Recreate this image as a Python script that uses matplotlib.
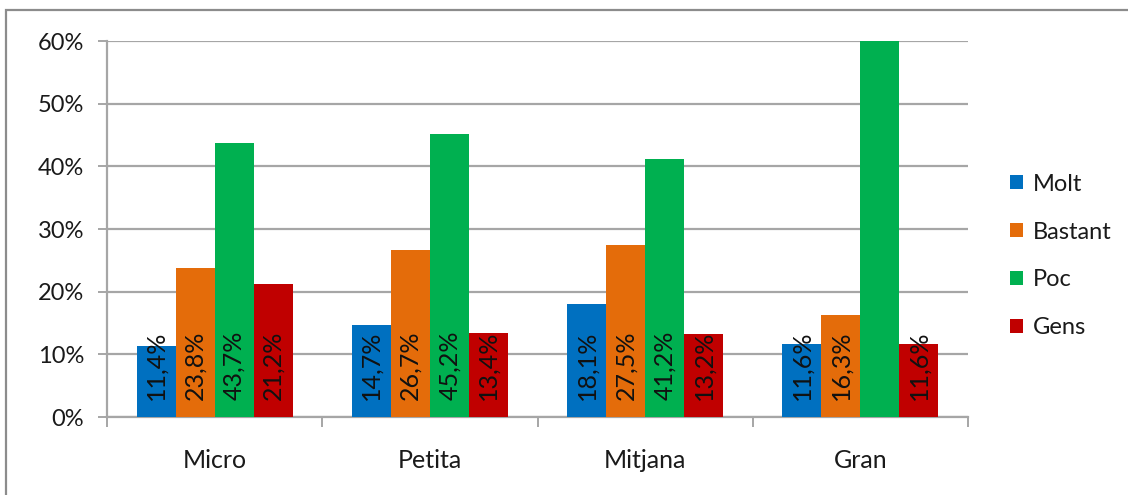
import numpy as np
import matplotlib.pyplot as plt
from matplotlib.patches import Patch, Rectangle

# categories and series (percent)
categories = ["Micro", "Petita", "Mitjana", "Gran"]
series_names = ["Molt", "Bastant", "Poc", "Gens"]
molt = [11.4, 14.7, 18.1, 11.6]
bastant = [23.8, 26.7, 27.5, 16.3]
poc = [43.7, 45.2, 41.2, 60.5]
gens = [21.2, 13.4, 13.2, 11.6]
colors = ["#0070C0", "#E46C0A", "#00B050", "#C00000"]

plt.rcParams['font.family'] = ['Lato', 'DejaVu Sans']

W, H = 1128, 495
fig = plt.figure(figsize=(W / 100, H / 100), dpi=100)
fig.patch.set_facecolor("white")

# outer frame (only top and left visible in the crop)
fig.patches.append(Rectangle((6 / W, -0.1), 1.2, 1 - 10 / H + 0.1,
                             transform=fig.transFigure, fill=False,
                             edgecolor="#8c8c8c", linewidth=1.6))

ax = fig.add_axes([107 / W, 1 - 417 / H, (968 - 107) / W, (417 - 41) / H])

gray = "#a6a6a6"
txt = "#1a1a1a"
x = np.arange(len(categories))
bw = 0.725 / 4
all_series = [molt, bastant, poc, gens]
for i, (vals, col) in enumerate(zip(all_series, colors)):
    pos = x + (i - 1.5) * bw
    ax.bar(pos, vals, bw, color=col, zorder=3)
    for p, v in zip(pos, vals):
        if v > 60:
            continue  # label not visible in the original
        ax.annotate(f"{v:.1f}%".replace(".", ","), (p, 0), xytext=(0, 12),
                    textcoords="offset points", rotation=90, ha="center",
                    va="bottom", fontsize=18, color="#111111", zorder=4)

ax.set_ylim(0, 60)
ax.set_xlim(-0.5, len(categories) - 0.5)
ax.set_yticks(np.arange(0, 61, 10))
ax.set_yticklabels([f"{t}%" for t in range(0, 61, 10)])
ax.yaxis.grid(True, color=gray, linewidth=1.6, zorder=0)
ax.set_xticks(x)
ax.set_xticklabels(categories)
ax.set_xticks(np.arange(-0.5, len(categories)), minor=True)
ax.tick_params(axis="x", which="major", length=0, pad=23, labelsize=18,
               labelcolor=txt)
ax.tick_params(axis="x", which="minor", length=7, width=1.4, color=gray)
ax.tick_params(axis="y", length=6.5, width=1.4, color=gray, pad=10, labelsize=17,
               labelcolor=txt)
for s in ["top", "right"]:
    ax.spines[s].set_visible(False)
for s in ["left", "bottom"]:
    ax.spines[s].set_color(gray)
    ax.spines[s].set_linewidth(1.6)
ax.set_axisbelow(True)

handles = [Patch(facecolor=c) for c in colors]
fig.legend(handles, series_names, loc="center left",
           bbox_to_anchor=(989 / W, 1 - 256 / H), frameon=False,
           fontsize=17, handlelength=0.55, handleheight=0.55,
           handletextpad=0.4, labelspacing=1.14, labelcolor=txt)

fig.savefig("out.png", dpi=100)
